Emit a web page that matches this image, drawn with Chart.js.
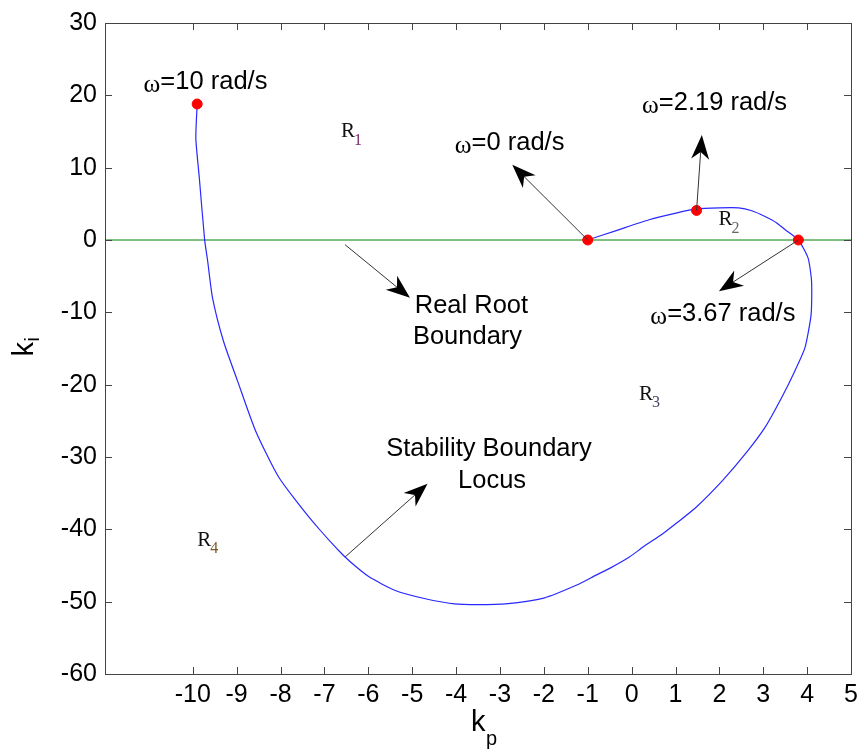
<!DOCTYPE html>
<html>
<head>
<meta charset="utf-8">
<script src="https://cdn.jsdelivr.net/npm/chart.js@4/dist/chart.umd.min.js"></script>
<style>
  body { margin: 0; background: #fff; }
  canvas { display: block; }
</style>
</head>
<body>
<canvas id="grafico" width="864" height="753"></canvas>
<script>
// dados (kp, ki)
const locusKp = [-1.00, -0.35, 0.40, 1.01, 1.48, 2.00, 2.44, 2.74, 3.04, 3.30, 3.50, 3.80, 4.02, 4.10, 4.09, 3.95, 3.72, 3.42, 3.04, 2.59, 2.07, 1.47, 1.01, 0.71, 0.26, -0.05, -0.50, -0.80, -1.25, -2.00, -2.87, -3.50, -4.04, -4.70, -5.40, -6.00, -6.53, -7.29, -8.04, -8.57, -8.98, -9.30, -9.55, -9.66, -9.73, -9.85, -9.93, -9.90];
const locusKi = [0.00, 1.30, 2.80, 3.72, 4.30, 4.45, 4.45, 4.05, 3.26, 2.40, 1.43, 0.00, -2.48, -5.70, -10.28, -14.89, -18.10, -21.78, -25.91, -29.58, -33.26, -36.94, -39.20, -40.60, -42.45, -43.83, -45.40, -46.30, -47.70, -49.50, -50.30, -50.40, -50.30, -49.60, -48.42, -46.50, -43.83, -38.77, -32.80, -26.37, -19.48, -14.00, -8.00, -2.94, 0.05, 8.54, 14.05, 18.80];

const pontosKp = [-9.90, -1.00, 1.48, 3.80];
const pontosKi = [18.80, 0.00, 4.09, 0.00];

const raizRealKp = [-12, 5];
const raizRealKi = [0, 0];

const xTicks = [-10, -9, -8, -7, -6, -5, -4, -3, -2, -1, 0, 1, 2, 3, 4, 5];
const yTicks = [30, 20, 10, 0, -10, -20, -30, -40, -50, -60];

// textos das anotações
const textos = ['ω=10 rad/s', 'ω=0 rad/s', 'ω=2.19 rad/s', 'ω=3.67 rad/s', 'Real Root', 'Boundary', 'Stability Boundary', 'Locus'];
const textosKp = [-9.71, -2.78, 1.89, 2.08, -3.65, -3.74, -3.25, -3.18];
const textosKi = [21.87, 13.37, 18.88, -10.28, -9.14, -13.40, -28.90, -33.26];

const regioes = ['1', '2', '3', '4'];
const regioesKp = [-6.46, 2.14, 0.33, -9.74];
const regioesKi = [14.98, 2.81, -21.30, -41.50];

// setas: origem -> ponta
const setaDeKp = [-1.00, 1.48, 3.80, -6.53, -6.53];
const setaDeKi = [0.00, 4.09, 0.00, -0.65, -43.83];
const setaAteKp = [-2.72, 1.60, 1.99, -5.05, -4.65];
const setaAteKi = [10.40, 14.50, -7.07, -8.00, -33.70];

const fonteSans = '"Liberation Sans", Arial, sans-serif';
const fonteSerif = '"Liberation Serif", "Times New Roman", serif';
const tamTexto = 25.5;

function seta(ctx, x0, y0, x1, y1) {
    const dx = x1 - x0, dy = y1 - y0;
    const len = Math.hypot(dx, dy);
    const ux = dx / len, uy = dy / len;
    const nx = -uy, ny = ux;
    const L = 24, W = 9;
    ctx.save();
    ctx.strokeStyle = '#333';
    ctx.lineWidth = 1;
    ctx.beginPath();
    ctx.moveTo(x0, y0);
    ctx.lineTo(x1 - ux * L * 0.6, y1 - uy * L * 0.6);
    ctx.stroke();
    ctx.fillStyle = '#000';
    ctx.beginPath();
    ctx.moveTo(x1, y1);
    ctx.lineTo(x1 - ux * L + nx * W, y1 - uy * L + ny * W);
    ctx.lineTo(x1 - ux * L * 0.7, y1 - uy * L * 0.7);
    ctx.lineTo(x1 - ux * L - nx * W, y1 - uy * L - ny * W);
    ctx.closePath();
    ctx.fill();
    ctx.restore();
}

// escreve o texto, com o ω em fonte serifada
function escreverTexto(ctx, texto, cx, cy) {
    ctx.save();
    ctx.fillStyle = '#000';
    ctx.textBaseline = 'middle';
    ctx.textAlign = 'left';
    const fSans = tamTexto + 'px ' + fonteSans;
    const fSerif = tamTexto + 'px ' + fonteSerif;
    if (texto.startsWith('ω')) {
        const resto = texto.slice(1);
        ctx.font = fSerif;
        const wOmega = ctx.measureText('ω').width;
        ctx.font = fSans;
        const wResto = ctx.measureText(resto).width;
        const x0 = cx - (wOmega + wResto) / 2;
        ctx.font = fSerif;
        ctx.fillText('ω', x0, cy + 3);
        ctx.font = fSans;
        ctx.fillText(resto, x0 + wOmega, cy);
    } else {
        ctx.font = fSans;
        ctx.textAlign = 'center';
        ctx.fillText(texto, cx, cy);
    }
    ctx.restore();
}

const moldura = {
    id: 'moldura',
    afterDraw(chart) {
        const { ctx, chartArea: a, scales: { x, y } } = chart;
        ctx.save();
        ctx.strokeStyle = '#444';
        ctx.lineWidth = 1;
        ctx.strokeRect(Math.round(a.left) + 0.5, Math.round(a.top) + 0.5, Math.round(a.right - a.left), Math.round(a.bottom - a.top));
        ctx.beginPath();
        xTicks.forEach(v => {
            const px = Math.round(x.getPixelForValue(v)) + 0.5;
            ctx.moveTo(px, a.bottom); ctx.lineTo(px, a.bottom - 7);
            ctx.moveTo(px, a.top); ctx.lineTo(px, a.top + 7);
        });
        yTicks.forEach(v => {
            const py = Math.round(y.getPixelForValue(v)) + 0.5;
            ctx.moveTo(a.left, py); ctx.lineTo(a.left + 7, py);
            ctx.moveTo(a.right, py); ctx.lineTo(a.right - 7, py);
        });
        ctx.stroke();

        // títulos dos eixos com subscrito
        ctx.fillStyle = '#000';
        ctx.textBaseline = 'alphabetic';
        ctx.textAlign = 'left';
        const cxT = (a.left + a.right) / 2;
        ctx.font = '29px ' + fonteSans;
        ctx.fillText('k', cxT - 7, 731);
        ctx.font = '20px ' + fonteSans;
        ctx.fillText('p', cxT + 8, 745);
        ctx.translate(33, (a.top + a.bottom) / 2 + 8);
        ctx.rotate(-Math.PI / 2);
        ctx.font = '29px ' + fonteSans;
        ctx.fillText('k', 0, 0);
        ctx.font = '20px ' + fonteSans;
        ctx.fillText('i', 15, 6);
        ctx.restore();

        setaDeKp.forEach((kp, i) => {
            seta(ctx, x.getPixelForValue(kp), y.getPixelForValue(setaDeKi[i]),
                x.getPixelForValue(setaAteKp[i]), y.getPixelForValue(setaAteKi[i]));
        });
        textos.forEach((t, i) => {
            escreverTexto(ctx, t, x.getPixelForValue(textosKp[i]), y.getPixelForValue(textosKi[i]));
        });
        const coresSub = ['#7a2a6a', '#666', '#446', '#7a5a20'];
        regioes.forEach((r, i) => {
            const px = x.getPixelForValue(regioesKp[i]);
            const py = y.getPixelForValue(regioesKi[i]);
            ctx.save();
            ctx.textBaseline = 'middle';
            ctx.textAlign = 'center';
            ctx.fillStyle = '#111';
            ctx.font = '21px ' + fonteSerif;
            ctx.fillText('R', px, py);
            ctx.fillStyle = coresSub[i];
            ctx.font = '16px ' + fonteSerif;
            ctx.fillText(r, px + 10, py + 9);
            ctx.restore();
        });
    }
};

new Chart(document.getElementById('grafico'), {
    type: 'scatter',
    data: {
        datasets: [
            {
                label: 'ω',
                data: pontosKp.map((v, i) => ({ x: v, y: pontosKi[i] })),
                backgroundColor: '#ff0000',
                borderColor: '#ff0000',
                pointRadius: 5,
                showLine: false
            },
            {
                label: 'Stability Boundary Locus',
                data: locusKp.map((v, i) => ({ x: v, y: locusKi[i] })),
                borderColor: 'rgb(40, 40, 255)',
                borderWidth: 1.2,
                pointRadius: 0,
                showLine: true,
                tension: 0.2
            },
            {
                label: 'Real Root Boundary',
                data: raizRealKp.map((v, i) => ({ x: v, y: raizRealKi[i] })),
                borderColor: 'rgb(0, 128, 0)',
                borderWidth: 1,
                pointRadius: 0,
                showLine: true
            }
        ]
    },
    options: {
        responsive: false,
        animation: false,
        devicePixelRatio: 1,
        layout: { padding: { top: 21, right: 9, left: 0, bottom: 0 } },
        plugins: { legend: { display: false }, tooltip: { enabled: false } },
        scales: {
            x: {
                type: 'linear', min: -12, max: 5,
                afterBuildTicks: s => { s.ticks = xTicks.map(v => ({ value: v })); },
                afterFit: s => { s.height = 79; },
                grid: { display: false, drawTicks: false },
                border: { display: false },
                ticks: { color: '#000', padding: 6, font: { family: fonteSans, size: 25 } }
            },
            y: {
                type: 'linear', min: -60, max: 30,
                afterBuildTicks: s => { s.ticks = yTicks.map(v => ({ value: v })); },
                afterFit: s => { s.width = 105; },
                grid: { display: false, drawTicks: false },
                border: { display: false },
                ticks: { color: '#000', padding: 8, font: { family: fonteSans, size: 25 } }
            }
        }
    },
    plugins: [moldura]
});
</script>
</body>
</html>
